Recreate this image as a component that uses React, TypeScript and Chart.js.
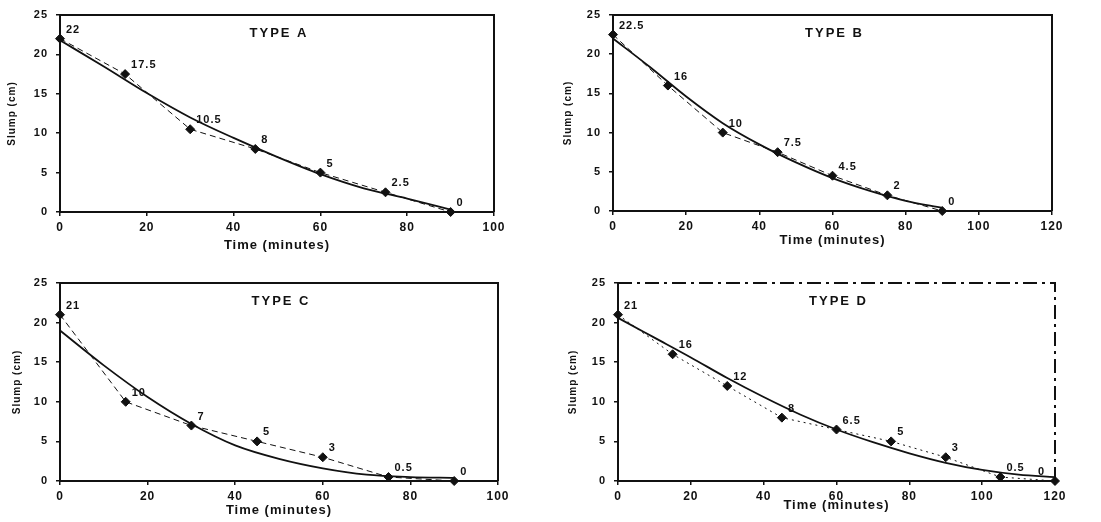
import React, { useEffect, useRef } from "react";
import { Chart, registerables } from "chart.js";

Chart.register(...registerables);

// ---------- DATA ----------
const timeA = [0, 15, 30, 45, 60, 75, 90];
const slumpA = [22, 17.5, 10.5, 8, 5, 2.5, 0];
const trendTimeA = [0, 10, 20, 30, 40, 50, 60, 70, 80, 90];
const trendA = [21.8, 18.5, 15.1, 12.0, 9.4, 7.0, 4.8, 3.0, 1.7, 0.3];

const timeB = [0, 15, 30, 45, 60, 75, 90];
const slumpB = [22.5, 16, 10, 7.5, 4.5, 2, 0];
const trendTimeB = [0, 10, 20, 30, 40, 50, 60, 70, 80, 90];
const trendB = [22.0, 18.4, 14.6, 11.2, 8.5, 6.2, 4.2, 2.6, 1.3, 0.4];

const timeC = [0, 15, 30, 45, 60, 75, 90];
const slumpC = [21, 10, 7, 5, 3, 0.5, 0];
const trendTimeC = [0, 10, 20, 30, 40, 50, 60, 70, 80, 90];
const trendC = [19.0, 14.6, 10.6, 7.2, 4.5, 2.8, 1.6, 0.8, 0.5, 0.4];

const timeD = [0, 15, 30, 45, 60, 75, 90, 105, 120];
const slumpD = [21, 16, 12, 8, 6.5, 5, 3, 0.5, 0];
const trendTimeD = [0, 10, 20, 30, 40, 50, 60, 70, 80, 90, 100, 110, 120];
const trendD = [20.6, 18.1, 15.6, 13.0, 10.6, 8.4, 6.5, 4.9, 3.5, 2.3, 1.4, 0.8, 0.5];

const titles = ["TYPE A", "TYPE B", "TYPE C", "TYPE D"];
const xMaxes = [100, 120, 100, 120];
const xAxisTitle = "Time (minutes)";
const yAxisTitle = "Slump (cm)";

// ---------- LAYOUT / STYLE ----------
type Panel = {
  title: string;
  time: number[];
  slump: number[];
  trendTime: number[];
  trend: number[];
  xMax: number;
  left: number;
  top: number;
  width: number;
  height: number;
  plot: { l: number; r: number; t: number; b: number };
  xTitleY: number;
  yTitleX: number;
  obsDash: number[];
  frameDash: number[];
  lastLabelLeft: boolean;
};

const panels: Panel[] = [
  {
    title: titles[0], time: timeA, slump: slumpA, trendTime: trendTimeA, trend: trendA, xMax: xMaxes[0],
    left: 0, top: 0, width: 550, height: 260,
    plot: { l: 60, r: 494, t: 15, b: 212 }, xTitleY: 245, yTitleX: 12,
    obsDash: [6, 4], frameDash: [], lastLabelLeft: false,
  },
  {
    title: titles[1], time: timeB, slump: slumpB, trendTime: trendTimeB, trend: trendB, xMax: xMaxes[1],
    left: 550, top: 0, width: 551, height: 260,
    plot: { l: 63, r: 502, t: 15, b: 211 }, xTitleY: 240, yTitleX: 18,
    obsDash: [6, 4], frameDash: [], lastLabelLeft: false,
  },
  {
    title: titles[2], time: timeC, slump: slumpC, trendTime: trendTimeC, trend: trendC, xMax: xMaxes[2],
    left: 0, top: 260, width: 550, height: 262,
    plot: { l: 60, r: 498, t: 23, b: 221 }, xTitleY: 250, yTitleX: 17,
    obsDash: [6, 4], frameDash: [], lastLabelLeft: false,
  },
  {
    title: titles[3], time: timeD, slump: slumpD, trendTime: trendTimeD, trend: trendD, xMax: xMaxes[3],
    left: 550, top: 260, width: 551, height: 262,
    plot: { l: 68, r: 505, t: 23, b: 221 }, xTitleY: 245, yTitleX: 23,
    obsDash: [2, 4], frameDash: [14, 5, 3, 5], lastLabelLeft: true,
  },
];

const FONT = '"Liberation Sans", Arial, sans-serif';
const INK = "#111111";

const decorPlugin = {
  id: "decor",
  beforeUpdate(chart: any) {
    chart.ctx.letterSpacing = "1px";
  },
  beforeDraw(chart: any) {
    chart.ctx.letterSpacing = "1px";
  },
  afterDatasetsDraw(chart: any, _args: any, opts: any) {
    const { ctx, chartArea: a } = chart;
    ctx.save();
    // top and right frame
    ctx.strokeStyle = INK;
    ctx.lineWidth = 2;
    ctx.setLineDash(opts.frameDash || []);
    ctx.beginPath();
    ctx.moveTo(a.left, a.top);
    ctx.lineTo(a.right, a.top);
    ctx.lineTo(a.right, a.bottom);
    ctx.stroke();
    ctx.setLineDash([]);
    // panel title
    ctx.fillStyle = INK;
    ctx.font = `bold 13px ${FONT}`;
    ctx.letterSpacing = "2px";
    ctx.textAlign = "center";
    ctx.textBaseline = "middle";
    ctx.fillText(opts.title, (a.left + a.right) / 2 + 2, a.top + 18);
    // value labels
    ctx.font = `bold 11px ${FONT}`;
    ctx.letterSpacing = "1px";
    const meta = chart.getDatasetMeta(1);
    const labels: string[] = opts.labels;
    meta.data.forEach((el: any, i: number) => {
      const isLast = i === meta.data.length - 1;
      if (isLast && opts.lastLabelLeft) {
        ctx.textAlign = "right";
        ctx.fillText(labels[i], el.x - 10, el.y - 9);
      } else {
        ctx.textAlign = "left";
        ctx.fillText(labels[i], el.x + 6, el.y - 9);
      }
    });
    ctx.restore();
  },
};

function PanelChart({ p }: { p: Panel }) {
  const ref = useRef<HTMLCanvasElement | null>(null);
  useEffect(() => {
    if (!ref.current) return;
    const obs = p.time.map((t, i) => ({ x: t, y: p.slump[i] }));
    const fit = p.trendTime.map((t, i) => ({ x: t, y: p.trend[i] }));
    const chart = new Chart(ref.current, {
      type: "line",
      data: {
        datasets: [
          {
            label: "trend",
            data: fit,
            borderColor: INK,
            borderWidth: 1.8,
            pointRadius: 0,
            cubicInterpolationMode: "monotone",
            fill: false,
          },
          {
            label: "observed",
            data: obs,
            borderColor: INK,
            borderWidth: 1,
            borderDash: p.obsDash,
            pointRadius: 4.5,
            pointStyle: "rectRot",
            pointBackgroundColor: INK,
            pointBorderColor: INK,
            tension: 0,
            fill: false,
          },
        ],
      },
      options: {
        responsive: false,
        animation: false,
        clip: false as any,
        layout: {
          padding: { left: 0, top: p.plot.t, right: p.width - p.plot.r, bottom: 0 },
        },
        plugins: {
          legend: { display: false },
          tooltip: { enabled: false },
          decor: {
            title: p.title,
            labels: p.slump.map((v) => String(v)),
            frameDash: p.frameDash,
            lastLabelLeft: p.lastLabelLeft,
          },
        } as any,
        scales: {
          x: {
            type: "linear",
            min: 0,
            max: p.xMax,
            ticks: { stepSize: 20, color: INK, font: { family: FONT, size: 12, weight: "bold" }, padding: 4, maxRotation: 0 },
            grid: { drawOnChartArea: false, drawTicks: true, tickLength: 4, color: INK, lineWidth: 1.5 },
            border: { display: true, color: INK, width: 2 },
            title: {
              display: true,
              text: xAxisTitle,
              color: INK,
              font: { family: FONT, size: 13, weight: "bold" },
              padding: { top: 0, bottom: p.height - p.xTitleY - 7.8 },
            },
            afterFit: (scale: any) => {
              scale.height = p.height - p.plot.b;
            },
          },
          y: {
            type: "linear",
            min: 0,
            max: 25,
            ticks: { stepSize: 5, color: INK, font: { family: FONT, size: 11, weight: "bold" }, padding: 8 },
            grid: { drawOnChartArea: false, drawTicks: true, tickLength: 4, color: INK, lineWidth: 1.5 },
            border: { display: true, color: INK, width: 2 },
            title: {
              display: true,
              text: yAxisTitle,
              color: INK,
              font: { family: FONT, size: 10, weight: "bold" },
              padding: { top: p.yTitleX - 6, bottom: 0 },
            },
            afterFit: (scale: any) => {
              scale.width = p.plot.l;
            },
          },
        },
      },
      plugins: [decorPlugin as any],
    });
    return () => chart.destroy();
  }, [p]);
  return (
    <canvas
      ref={ref}
      width={p.width}
      height={p.height}
      style={{ position: "absolute", left: p.left, top: p.top, width: p.width, height: p.height }}
    />
  );
}

export default function App() {
  return (
    <div style={{ position: "fixed", left: 0, top: 0, width: 1101, height: 522, background: "#ffffff", overflow: "hidden" }}>
      {panels.map((p, i) => (
        <PanelChart key={i} p={p} />
      ))}
    </div>
  );
}
